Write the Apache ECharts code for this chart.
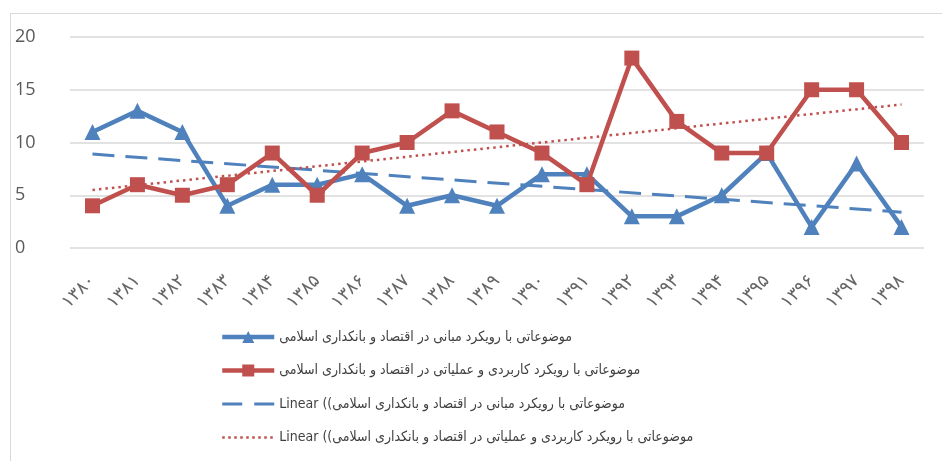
<!DOCTYPE html>
<html><head><meta charset="utf-8">
<script src="https://cdn.jsdelivr.net/npm/echarts@6/dist/echarts.min.js"></script>
<style>html,body{margin:0;padding:0;background:#fff}#c{width:942px;height:461px}</style>
</head><body><div id="c"></div>
<script>
var years = ['۱۳۸۰','۱۳۸۱','۱۳۸۲','۱۳۸۳','۱۳۸۴','۱۳۸۵','۱۳۸۶','۱۳۸۷','۱۳۸۸','۱۳۸۹','۱۳۹۰','۱۳۹۱','۱۳۹۲','۱۳۹۳','۱۳۹۴','۱۳۹۵','۱۳۹۶','۱۳۹۷','۱۳۹۸'];
var theoretical = [11, 13, 11, 4, 6, 6, 7, 4, 5, 4, 7, 7, 3, 3, 5, 9, 2, 8, 2];
var applied = [4, 6, 5, 6, 9, 5, 9, 10, 13, 11, 9, 6, 18, 12, 9, 9, 15, 15, 10];
var theoreticalTrendEnds = [8.9, 3.4];
var appliedTrendEnds = [5.5, 13.6];
var yTicks = [0, 5, 10, 15, 20];

var name1 = 'موضوعاتی با رویکرد مبانی در اقتصاد و بانکداری اسلامی';
var name2 = 'موضوعاتی با رویکرد کاربردی و عملیاتی در اقتصاد و بانکداری اسلامی';
var name3 = 'Linear ((' + name1;
var name4 = 'Linear ((' + name2;

function trend(ends) {
  var d = years.map(function () { return null; });
  d[0] = ends[0];
  d[years.length - 1] = ends[1];
  return d;
}

var BLUE = '#4f81bd', RED = '#c0504d';
var FONT = '"DejaVu Sans Condensed", "DejaVu Sans", sans-serif';
var chart = echarts.init(document.getElementById('c'), null, {renderer: 'canvas'});
chart.setOption({
  animation: false,
  backgroundColor: '#fff',
  graphic: [{
    type: 'rect', left: 8, top: 11,
    shape: {width: 960, height: 470},
    style: {fill: 'none', stroke: '#d9d9d9', lineWidth: 1}, z: -1
  }],
  grid: {left: 70, right: 18, top: 37, bottom: 213},
  xAxis: {
    type: 'category', data: years, boundaryGap: true,
    axisLine: {show: false}, axisTick: {show: false},
    axisLabel: {rotate: 45, color: '#666666', fontSize: 18, fontFamily: '"DejaVu Sans", sans-serif', margin: 30, interval: 0}
  },
  yAxis: {
    type: 'value', min: yTicks[0], max: yTicks[yTicks.length - 1], interval: 5,
    axisLine: {show: false}, axisTick: {show: false},
    splitLine: {lineStyle: {color: '#d9d9d9', width: 1.5}},
    axisLabel: {color: '#595959', fontSize: 18, fontFamily: '"Open Sans", sans-serif', align: 'left', margin: 55}
  },
  legend: {
    orient: 'vertical', left: 215, top: 325, itemGap: 19.5, itemWidth: 52, itemHeight: 15,
    textStyle: {color: '#404040', fontSize: 14, fontFamily: FONT},
    data: [
      {name: name1, lineStyle: {width: 4.5, color: BLUE}},
      {name: name2, lineStyle: {width: 4.5, color: RED}},
      {name: name3, lineStyle: {width: 3, color: BLUE, type: [20, 12]}, itemStyle: {color: 'rgba(0,0,0,0)', borderWidth: 0}},
      {name: name4, lineStyle: {width: 2.5, color: RED, type: [2.5, 3.5]}, itemStyle: {color: 'rgba(0,0,0,0)', borderWidth: 0}}
    ]
  },
  series: [
    {name: name1, type: 'line', data: theoretical, symbol: 'triangle', symbolSize: 16,
      itemStyle: {color: BLUE}, lineStyle: {color: BLUE, width: 4.5}, z: 3},
    {name: name2, type: 'line', data: applied, symbol: 'rect', symbolSize: 15,
      itemStyle: {color: RED}, lineStyle: {color: RED, width: 4.5}, z: 4},
    {name: name3, type: 'line', data: trend(theoreticalTrendEnds), connectNulls: true, symbol: 'none',
      itemStyle: {color: BLUE}, lineStyle: {color: BLUE, width: 3, type: [22, 11]}, z: 2},
    {name: name4, type: 'line', data: trend(appliedTrendEnds), connectNulls: true, symbol: 'none',
      itemStyle: {color: RED}, lineStyle: {color: RED, width: 2.5, type: [2.5, 4]}, z: 2}
  ]
});
</script></body></html>
